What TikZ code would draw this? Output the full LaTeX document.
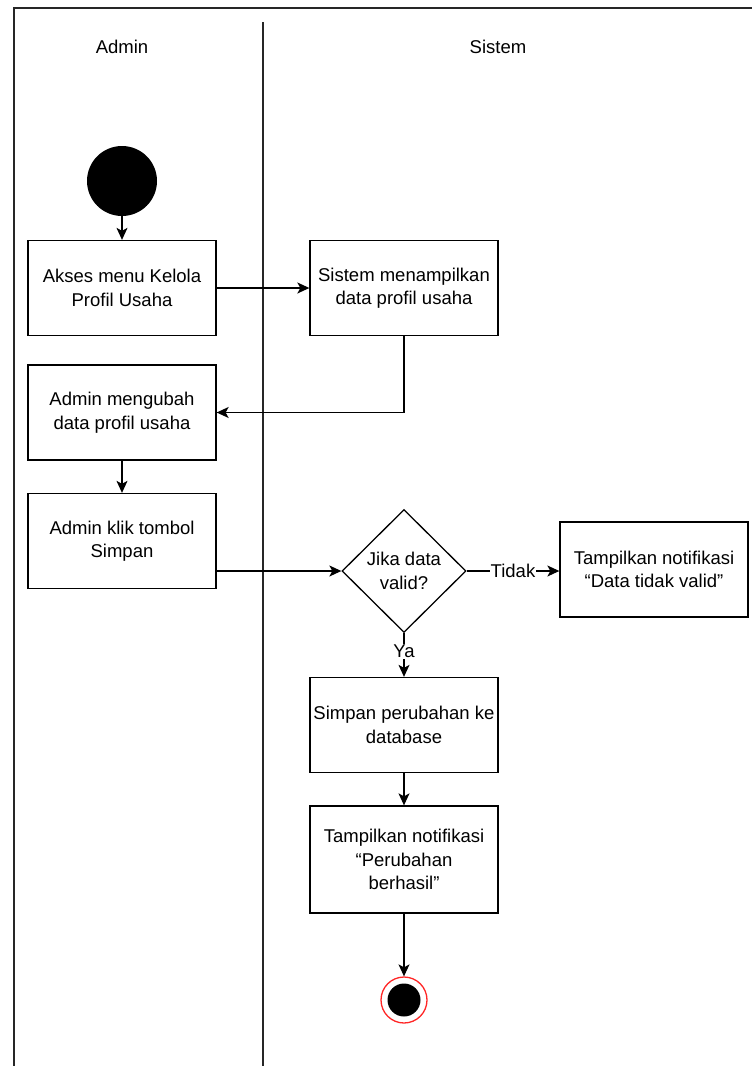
\documentclass[tikz,border=0pt]{standalone}
\usepackage{fontspec}
\setmainfont{Liberation Sans}
\usetikzlibrary{shapes.geometric,arrows.meta}
\begin{document}
\begin{tikzpicture}[x=1pt,y=-1pt,
  font=\fontsize{18.5}{23.5}\selectfont,
  lane/.style={line width=1.6pt,draw=black!85},
  actbox/.style={draw,line width=1.3pt,minimum width=188pt,minimum height=95pt,
    align=center,inner sep=0pt},
  decision/.style={draw,line width=1.3pt,diamond,minimum width=124pt,minimum height=123pt,
    inner sep=0pt,align=center},
  flow/.style={line width=1.3pt,-{Stealth[length=12pt,width=11pt,inset=3pt]}},
  lbl/.style={fill=white,inner sep=1pt}]
\useasboundingbox (0,0) rectangle (752,1066);
\fill[white] (0,0) rectangle (752,1066);
% swimlane frame
\coordinate (frameR) at (752,8);
\coordinate (frameB) at (14,1066);
\draw[lane] (frameR) -- (14,8) -- (frameB);
\coordinate (divT) at (263,22);
\coordinate (divB) at (263,1066);
\draw[lane] (divT) -- (divB);
\node (hA) at (122,47) {Admin};
\node (hS) at (498,47) {Sistem};
% nodes
\node[circle,fill=black,minimum size=70pt,inner sep=0pt] (start) at (122,181) {};
\node[actbox] (a1) at (122,288) {Akses menu Kelola\\Profil Usaha};
\node[actbox] (s1) at (404,288) {Sistem menampilkan\\data profil usaha};
\node[actbox] (a2) at (122,412.5) {Admin mengubah\\data profil usaha};
\node[actbox] (a3) at (122,541) {Admin klik tombol\\Simpan};
\node[decision] (dec) at (404,571) {Jika data\\valid?};
\node[actbox] (err) at (654,569.5) {Tampilkan notifikasi\\“Data tidak valid”};
\node[actbox] (save) at (404,725) {Simpan perubahan ke\\database};
\node[actbox,minimum height=107pt] (ok) at (404,859.5) {Tampilkan notifikasi\\“Perubahan\\berhasil”};
\node[circle,draw=red!85,line width=1.3pt,minimum size=46pt,inner sep=0pt] (endo) at (404,1000) {};
\node[circle,fill=black,minimum size=33pt,inner sep=0pt] (endi) at (404,1000) {};
% connectors
\draw[flow] (start) -- (a1);
\draw[flow] (a1) -- (s1);
\draw[flow] (s1.south) |- (a2.east);
\draw[flow] (a2) -- (a3);
\draw[flow] (a3.east |- dec.west) -- (dec.west);
\draw[flow] (dec.east) -- node[lbl] {Tidak} (err.west |- dec.east);
\draw[flow] (dec.south) -- node[lbl,pos=0.42] {Ya} (save.north);
\draw[flow] (save) -- (ok);
\draw[flow] (ok.south) -- (endo.north);
\end{tikzpicture}
\end{document}
